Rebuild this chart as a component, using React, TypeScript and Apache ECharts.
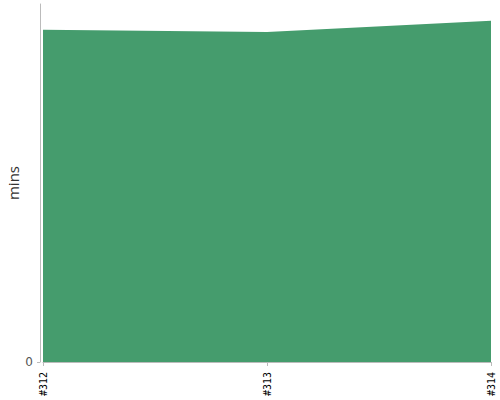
import React, { useEffect, useRef } from "react";
import * as echarts from "echarts";

const categories = ["#312", "#313", "#314"];
const minutes = [92.8, 92.2, 95.3];
const yTicks = [0];

export default function App() {
  const ref = useRef<HTMLDivElement>(null);
  useEffect(() => {
    if (!ref.current) return;
    const chart = echarts.init(ref.current, undefined, { renderer: "svg" });
    chart.setOption({
      animation: false,
      grid: { left: 43, right: 9, top: 4, bottom: 38, containLabel: false, outerBoundsMode: "none" },
      xAxis: {
        type: "category",
        data: categories,
        boundaryGap: false,
        offset: 4,
        axisLine: { lineStyle: { color: "#bbb" } },
        axisTick: { alignWithLabel: true, length: 4, lineStyle: { color: "#bbb" } },
        axisLabel: {
          rotate: 90,
          fontFamily: "'DejaVu Sans Mono', monospace",
          fontSize: 10,
          color: "#000",
          margin: 6,
          showMinLabel: true,
          showMaxLabel: true,
        },
        splitLine: { show: false },
      },
      yAxis: {
        type: "value",
        min: 0,
        max: 100,
        offset: 3,
        name: "mins",
        nameLocation: "middle",
        nameRotate: 90,
        nameGap: 20,
        nameMoveOverlap: false,
        nameTextStyle: { fontSize: 15, color: "#333", fontFamily: "'Open Sans', sans-serif" },
        axisLine: { show: true, lineStyle: { color: "#bbb" } },
        axisTick: { show: true, length: 3, customValues: yTicks, lineStyle: { color: "#bbb" } },
        axisLabel: {
          customValues: yTicks,
          fontSize: 12,
          color: "#555",
          fontFamily: "'DejaVu Sans', sans-serif",
          margin: 7,
        },
        splitLine: { show: false },
      },
      series: [
        {
          type: "line",
          data: minutes,
          symbol: "none",
          lineStyle: { width: 0 },
          areaStyle: { color: "#459c6d", opacity: 1 },
        },
      ],
    });
    return () => chart.dispose();
  }, []);
  return <div ref={ref} style={{ width: 500, height: 400, position: "absolute", left: 0, top: 0 }} />;
}
